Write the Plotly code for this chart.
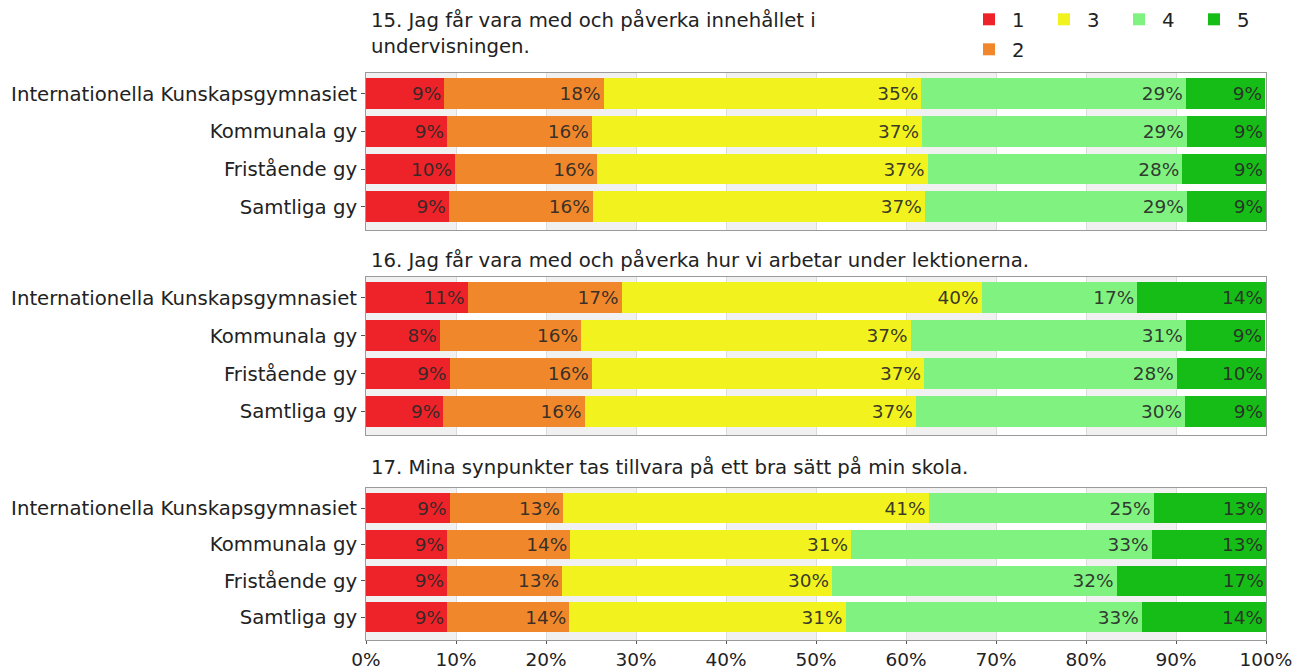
import plotly.graph_objects as go

categories = ["Internationella Kunskapsgymnasiet", "Kommunala gy", "Fristående gy", "Samtliga gy"]
series_names = ["1", "2", "3", "4", "5"]
colors = ["#EE2329", "#F0872A", "#F2F21E", "#7FF27F", "#17BD17"]

titles = [
    "15. Jag får vara med och påverka innehållet i<br>undervisningen.",
    "16. Jag får vara med och påverka hur vi arbetar under lektionerna.",
    "17. Mina synpunkter tas tillvara på ett bra sätt på min skola.",
]

# values per question: list per answer level (1..5), one value per category
q15 = {
    "1": [8.7, 9.0, 9.9, 9.2],
    "2": [17.7, 16.1, 15.8, 16.0],
    "3": [35.3, 36.7, 36.7, 36.9],
    "4": [29.4, 29.4, 28.3, 29.1],
    "5": [8.8, 8.8, 9.3, 8.8],
}
q16 = {
    "1": [11.3, 8.2, 9.3, 8.6],
    "2": [17.1, 15.7, 15.8, 15.7],
    "3": [40.0, 36.6, 36.9, 36.8],
    "4": [17.3, 30.6, 28.1, 29.9],
    "5": [14.3, 8.8, 9.9, 9.0],
}
q17 = {
    "1": [9.3, 9.0, 9.0, 9.0],
    "2": [12.6, 13.7, 12.8, 13.6],
    "3": [40.6, 31.2, 30.0, 30.7],
    "4": [25.0, 33.4, 31.6, 32.9],
    "5": [12.6, 12.7, 16.7, 13.8],
}
questions = [q15, q16, q17]

x_ticks = [0, 10, 20, 30, 40, 50, 60, 70, 80, 90, 100]
x_tick_labels = [f"{t}%" for t in x_ticks]

FONT = "Verdana, DejaVu Sans, sans-serif"
FS = 19.7
H_PLOT = 640.0
panels_px = [(73, 230), (277, 435), (488, 640)]
domains = [[(H_PLOT - b) / H_PLOT, (H_PLOT - t) / H_PLOT] for t, b in panels_px]

fig = go.Figure()
legend_of = {"1": "legend", "3": "legend", "4": "legend", "5": "legend", "2": "legend2"}

for qi, q in enumerate(questions):
    xa = "x" if qi == 0 else f"x{qi+1}"
    ya = "y" if qi == 0 else f"y{qi+1}"
    for si, s in enumerate(series_names):
        fig.add_trace(go.Bar(
            y=categories, x=q[s], orientation="h", name=s,
            marker=dict(color=colors[si], line=dict(width=0)),
            width=0.82,
            texttemplate="%{x:.0f}%",
            textposition="inside", insidetextanchor="end",
            textangle=0, constraintext="none",
            textfont=dict(family=FONT, size=18.5, color="rgba(40,40,40,0.92)"),
            showlegend=(qi == 0), legend=legend_of[s],
            xaxis=xa, yaxis=ya, hoverinfo="skip",
        ))

leg_common = dict(orientation="h", xanchor="left", yanchor="top",
                  entrywidth=24, entrywidthmode="pixels",
                  traceorder="normal", itemwidth=36,
                  font=dict(family=FONT, size=FS, color="#222"),
                  bgcolor="rgba(0,0,0,0)")
layout = dict(
    width=1296, height=672,
    barmode="stack",
    paper_bgcolor="white", plot_bgcolor="white",
    margin=dict(l=366, r=30, t=0, b=32, autoexpand=False),
    font=dict(family=FONT, size=FS, color="#222"),
    legend=dict(x=(966 - 366) / 900, y=1.0, **leg_common),
    legend2=dict(x=(966 - 366) / 900, y=1.0 - 30 / H_PLOT, **leg_common),
)
for qi in range(3):
    xkey = "xaxis" if qi == 0 else f"xaxis{qi+1}"
    ykey = "yaxis" if qi == 0 else f"yaxis{qi+1}"
    xa_anchor = "y" if qi == 0 else f"y{qi+1}"
    ya_anchor = "x" if qi == 0 else f"x{qi+1}"
    layout[xkey] = dict(
        domain=[0, 1], anchor=xa_anchor, range=[0, 100],
        tickvals=x_ticks, ticktext=x_tick_labels,
        showticklabels=(qi == 2), ticks="outside" if qi == 2 else "",
        ticklen=3, tickcolor="#555",
        showgrid=True, gridcolor="#DCDCDC", gridwidth=1,
        showline=True, linecolor="#9A9A9A", mirror=True, zeroline=False,
        tickfont=dict(size=18.5, color="#222"),
    )
    if qi > 0:
        layout[xkey]["matches"] = "x"
    layout[ykey] = dict(
        domain=domains[qi], anchor=ya_anchor,
        categoryorder="array", categoryarray=categories,
        range=[3.62, -0.55], ticks="outside", ticklen=4, tickcolor="#555",
        showline=True, linecolor="#9A9A9A", mirror=True, showgrid=False,
        tickfont=dict(size=FS, color="#222"),
    )
fig.update_layout(**layout)

# alternating light column bands (background decoration)
shapes = []
for qi in range(3):
    xr = "x" if qi == 0 else f"x{qi+1}"
    yr = "y domain" if qi == 0 else f"y{qi+1} domain"
    for k in range(0, 100, 20):
        shapes.append(dict(type="rect", xref=xr, yref=yr, x0=k, x1=k + 10, y0=0, y1=1,
                           fillcolor="#F1F1F1", line=dict(width=0), layer="below"))
fig.update_layout(shapes=shapes)

# question titles
title_y = [1.0 - 34 / H_PLOT, 1.0 - 260 / H_PLOT, 1.0 - 467 / H_PLOT]
for qi, t in enumerate(titles):
    fig.add_annotation(text=t, xref="paper", yref="paper", x=0.003, y=title_y[qi],
                       xanchor="left", yanchor="middle", align="left", showarrow=False,
                       font=dict(family=FONT, size=FS, color="#222"))

fig.write_html("out.html", config={"displayModeBar": False},
               post_script="document.body.style.margin='0px';")
